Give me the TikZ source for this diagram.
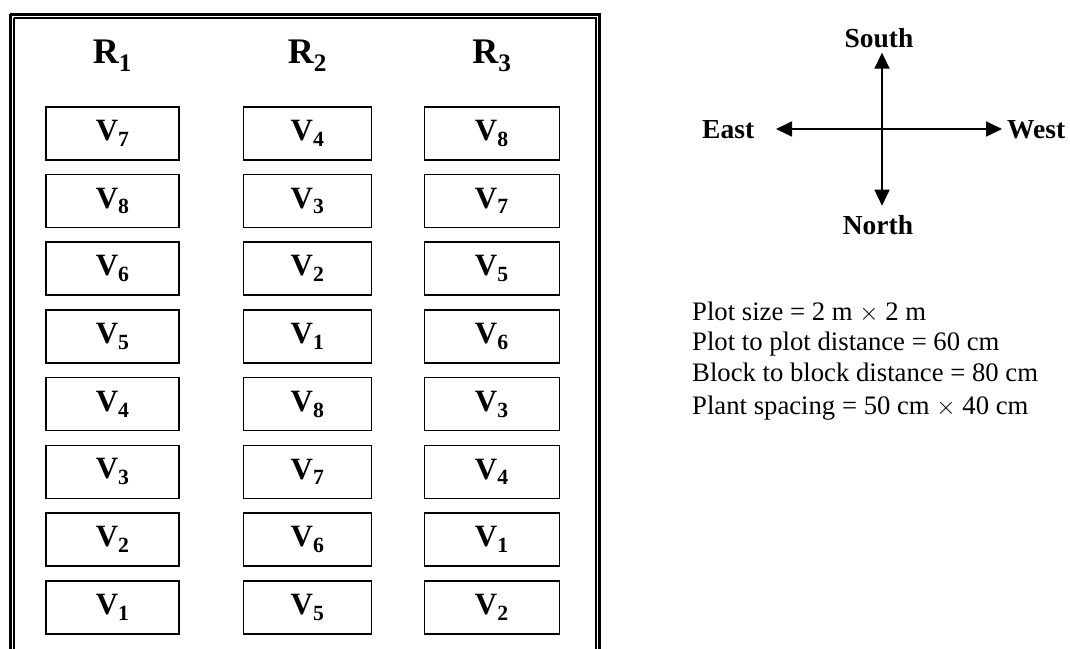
\documentclass[tikz,border=0pt]{standalone}
\usepackage{fontspec}
\setmainfont{Liberation Serif}
\usetikzlibrary{arrows.meta}
\begin{document}
\begin{tikzpicture}[x=1pt,y=-1pt,
  plotbox/.style={draw,line width=1.6pt,minimum height=53pt,inner sep=0pt,font=\fontsize{31}{33}\selectfont\bfseries},
  replabel/.style={font=\fontsize{36}{38}\selectfont\bfseries},
  dirlabel/.style={font=\fontsize{27.5}{29}\selectfont\bfseries,inner sep=0pt},
  infotext/.style={font=\fontsize{26.7}{28}\selectfont,anchor=base west,inner sep=0pt},
  comparrow/.style={line width=1.8pt,-{Triangle[length=16pt,width=15pt]}}]
\useasboundingbox (0,0) rectangle (1070,648);
% double frame
\draw[line width=3pt] (10.4,14.2) -- (10.4,660) (10.4,14.2) -- (599.7,14.2) -- (599.7,660);
\draw[line width=1.9pt] (14.3,18.2) -- (14.3,660) (14.3,18.2) -- (596.3,18.2) -- (596.3,660);
% replication labels
\node[replabel] (r1) at (112.5,56) {R\textsubscript{1}};
\node[replabel] (r2) at (307.5,56) {R\textsubscript{2}};
\node[replabel] (r3) at (491.8,56) {R\textsubscript{3}};
% plots
\def\colA{7,8,6,5,4,3,2,1}
\def\colB{4,3,2,1,8,7,6,5}
\def\colC{8,7,5,6,3,4,1,2}
\foreach \v [count=\i from 0] in \colA {
  \node[plotbox,minimum width=133pt] (a\i) at (112.7,{133.3+67.7*\i}) {V\textsubscript{\v}};
}
\foreach \v [count=\i from 0] in \colB {
  \node[plotbox,minimum width=128pt] (b\i) at (307.5,{133.3+67.7*\i}) {V\textsubscript{\v}};
}
\foreach \v [count=\i from 0] in \colC {
  \node[plotbox,minimum width=135pt] (c\i) at (491.8,{133.3+67.7*\i}) {V\textsubscript{\v}};
}
% compass
\coordinate (cc) at (882,129);
\coordinate (ctop) at (882,52.7);
\coordinate (cbot) at (882,205.7);
\coordinate (cleft) at (776,129);
\coordinate (cright) at (1002,129);
\draw[comparrow] (cc) -- (ctop);
\draw[comparrow] (cc) -- (cbot);
\draw[comparrow] (cc) -- (cleft);
\draw[comparrow] (cc) -- (cright);
\node[dirlabel,anchor=base] (south) at (879,47.5) {South};
\node[dirlabel,anchor=base] (north) at (878,234.5) {North};
\node[dirlabel,anchor=base west] (east) at (702,138) {East};
\node[dirlabel,anchor=base west] (west) at (1007,138) {West};
% notes
\node[infotext] (t1) at (692,320) {Plot size = 2 m $\times$ 2 m};
\node[infotext] (t2) at (692,350) {Plot to plot distance = 60 cm};
\node[infotext] (t3) at (692,381.5) {Block to block distance = 80 cm};
\node[infotext] (t4) at (692,414) {Plant spacing = 50 cm $\times$ 40 cm};
\end{tikzpicture}
\end{document}
